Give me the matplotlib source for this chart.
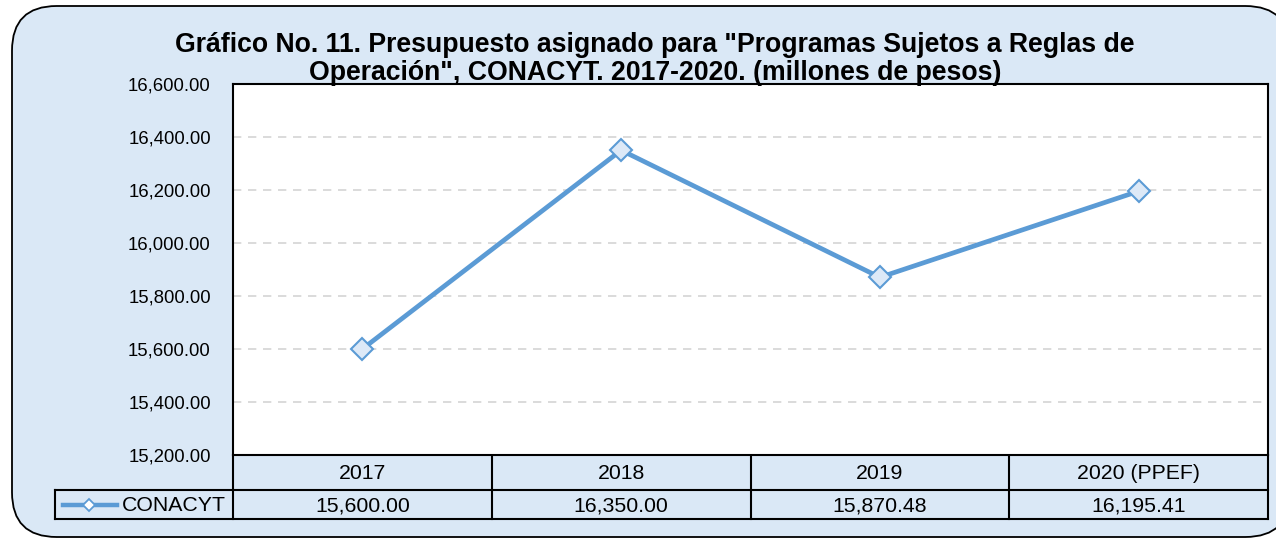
import matplotlib.pyplot as plt
from matplotlib.patches import FancyBboxPatch
from matplotlib.lines import Line2D

plt.rcParams['font.family'] = ['Liberation Sans', 'DejaVu Sans']

# data
years = ['2017', '2018', '2019', '2020 (PPEF)']
conacyt = [15600.00, 16350.00, 15870.48, 16195.41]
series_name = 'CONACYT'
title_lines = ['Gráfico No. 11. Presupuesto asignado para "Programas Sujetos a Reglas de',
               'Operación", CONACYT. 2017-2020. (millones de pesos)']

W, H = 1276, 542
fig = plt.figure(figsize=(W / 100, H / 100), dpi=100)
fig.patch.set_facecolor('white')

def fx(px):
    return px / W

def fy(py):
    return 1 - py / H

# rounded background panel
bg = FancyBboxPatch((fx(12), fy(537)), fx(1290) - fx(12), fy(6) - fy(537),
                    boxstyle='round,pad=0,rounding_size=0.035',
                    transform=fig.transFigure, facecolor='#dae8f6',
                    edgecolor='black', linewidth=1.3, mutation_aspect=W / H,
                    zorder=-5)
fig.patches.append(bg)

left, right, top, bottom = 233, 1268, 84, 455
ax = fig.add_axes([fx(left), fy(bottom), fx(right) - fx(left), fy(top) - fy(bottom)])
ax.set_zorder(2)
ax.set_facecolor('white')

x = list(range(len(years)))
ax.plot(x, conacyt, color='#5b9bd5', linewidth=3.4, marker='D', markersize=11.5,
        markerfacecolor='#dde9f7', markeredgecolor='#5b9bd5', markeredgewidth=1.5,
        zorder=3, clip_on=False)
ax.set_xlim(-0.5, len(years) - 0.5)
ax.set_ylim(15200, 16600)
ax.set_yticks(range(15200, 16601, 200))
ax.set_yticklabels([f'{v:,.2f}' for v in range(15200, 16601, 200)], fontsize=13.3)
ax.set_xticks([])
ax.tick_params(axis='y', length=0, pad=16)
ax.grid(axis='y', color='#d4d4d4', linestyle=(0, (5, 4)), linewidth=1.2)
ax.set_axisbelow(True)
for s in ax.spines.values():
    s.set_linewidth(1.5)
    s.set_color('black')

for ty, line in zip([45, 73], title_lines):
    fig.text(fx(655), fy(ty), line, ha='center', va='center', fontsize=19.2,
             fontweight='bold', zorder=5)

# data table below the chart
row1_top, row1_bot, row2_bot = 455, 490, 519
col_edges = [left + i * (right - left) / len(years) for i in range(len(years) + 1)]
lk = dict(color='black', linewidth=1.5, transform=fig.transFigure)
fig.add_artist(Line2D([fx(55), fx(right)], [fy(row1_bot)] * 2, **lk))
fig.add_artist(Line2D([fx(55), fx(right)], [fy(row2_bot)] * 2, **lk))
fig.add_artist(Line2D([fx(55), fx(55)], [fy(row1_bot), fy(row2_bot)], **lk))
for cx in col_edges:
    fig.add_artist(Line2D([fx(cx), fx(cx)], [fy(row1_top), fy(row2_bot)], **lk))

for i, (yr, v) in enumerate(zip(years, conacyt)):
    cx = (col_edges[i] + col_edges[i + 1]) / 2
    fig.text(fx(cx), fy((row1_top + row1_bot) / 2 + 1), yr, ha='center', va='center', fontsize=15.3)
    fig.text(fx(cx), fy((row1_bot + row2_bot) / 2 + 1), f'{v:,.2f}', ha='center', va='center', fontsize=15.3)

# legend key in the table
ky = fy((row1_bot + row2_bot) / 2)
fig.add_artist(Line2D([fx(63), fx(117)], [ky, ky], color='#5b9bd5', linewidth=3.2,
                      transform=fig.transFigure))
fig.add_artist(Line2D([fx(89)], [ky], marker='D', markersize=6, color='#5b9bd5',
                      markerfacecolor='white', markeredgecolor='#5b9bd5',
                      markeredgewidth=1.3, transform=fig.transFigure))
fig.text(fx(122), fy((row1_bot + row2_bot) / 2 + 1), series_name, ha='left', va='center', fontsize=15.3)

fig.savefig('out.png', dpi=100, facecolor=fig.get_facecolor())
